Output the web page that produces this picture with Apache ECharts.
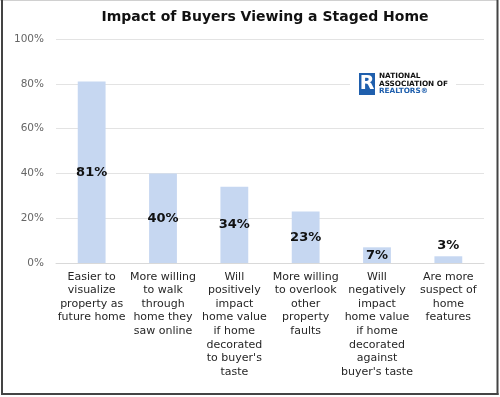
<!DOCTYPE html>
<html>
<head>
<meta charset="utf-8">
<script src="https://cdn.jsdelivr.net/npm/echarts@6/dist/echarts.min.js"></script>
<style>
  html, body { margin: 0; padding: 0; background: #fff; }
  #main { width: 500px; height: 397px; }
</style>
</head>
<body>
<div id="main"></div>
<script>
// categories and values
var categories = [
  'Easier to\nvisualize\nproperty as\nfuture home',
  'More willing\nto walk\nthrough\nhome they\nsaw online',
  'Will\npositively\nimpact\nhome value\nif home\ndecorated\nto buyer\'s\ntaste',
  'More willing\nto overlook\nother\nproperty\nfaults',
  'Will\nnegatively\nimpact\nhome value\nif home\ndecorated\nagainst\nbuyer\'s taste',
  'Are more\nsuspect of\nhome\nfeatures'
]
var shares = [81, 40, 34, 23, 7, 3]
var yTicks = [0, 20, 40, 60, 80, 100]

var font = 'DejaVu Sans'
var chart = echarts.init(document.getElementById('main'))

var barData = shares.map(function (v, i) {
  // the smallest bar is too short to hold its label, it sits on top
  if (v < 5) {
    return { value: v, label: { position: 'top', distance: 4 } }
  }
  return v
})

chart.setOption({
  animation: false,
  title: {
    text: 'Impact of Buyers Viewing a Staged Home',
    left: 260,
    top: 5,
    textAlign: 'center',
    textStyle: { fontFamily: font, fontWeight: 'bold', fontSize: 14, color: '#111' }
  },
  grid: { left: 56, right: 16, top: 39, bottom: 134 },
  xAxis: {
    type: 'category',
    data: categories,
    axisLine: { show: true, lineStyle: { color: '#d9d9d9', width: 1 } },
    axisTick: { show: false },
    axisLabel: {
      interval: 0,
      margin: 7,
      fontFamily: font,
      fontSize: 11,
      lineHeight: 13.6,
      color: '#262626',
      align: 'center',
      verticalAlign: 'top'
    }
  },
  yAxis: {
    type: 'value',
    min: 0,
    max: 100,
    interval: 20,
    axisLine: { show: false },
    axisTick: { show: false },
    splitLine: { lineStyle: { color: '#e3e3e3', width: 1 } },
    axisLabel: {
      margin: 12,
      fontFamily: font,
      fontSize: 10.5,
      color: '#666',
      formatter: function (v) { return yTicks.indexOf(v) >= 0 ? v + '%' : '' }
    }
  },
  series: [{
    type: 'bar',
    data: barData,
    barWidth: '39%',
    itemStyle: { color: '#c6d7f1' },
    label: {
      show: true,
      position: 'inside',
      formatter: '{c}%',
      fontFamily: font,
      fontWeight: 'bold',
      fontSize: 13,
      color: '#111'
    }
  }],
  graphic: [
    // frame around the picture
    { type: 'line', shape: { x1: 0, y1: 0.5, x2: 498, y2: 0.5 }, style: { stroke: '#d0d0d0', lineWidth: 1 } },
    { type: 'line', shape: { x1: 2, y1: 0, x2: 2, y2: 395 }, style: { stroke: '#444', lineWidth: 2 } },
    { type: 'line', shape: { x1: 497.5, y1: 0, x2: 497.5, y2: 395 }, style: { stroke: '#444', lineWidth: 2 } },
    { type: 'line', shape: { x1: 1, y1: 394, x2: 498.5, y2: 394 }, style: { stroke: '#444', lineWidth: 2 } },
    // NAR logo
    { type: 'rect', shape: { x: 350, y: 70, width: 106, height: 30 }, style: { fill: '#fff' }, z: 10 },
    { type: 'rect', shape: { x: 359, y: 73, width: 16, height: 22 }, style: { fill: '#1f5fad' }, z: 11 },
    { type: 'text', style: { text: 'R', x: 367, y: 84.5, fill: '#fff', font: 'bold 19px ' + font, align: 'center', verticalAlign: 'middle' }, z: 12 },
    { type: 'text', style: { text: 'NATIONAL', x: 379, y: 73, fill: '#111', font: 'bold 7.3px ' + font }, z: 12 },
    { type: 'text', style: { text: 'ASSOCIATION OF', x: 379, y: 80.5, fill: '#111', font: 'bold 7.3px ' + font }, z: 12 },
    { type: 'text', style: { text: 'REALTORS\u00ae', x: 379, y: 88, fill: '#1f5fad', font: 'bold 7.3px ' + font }, z: 12 }
  ]
})
</script>
</body>
</html>
